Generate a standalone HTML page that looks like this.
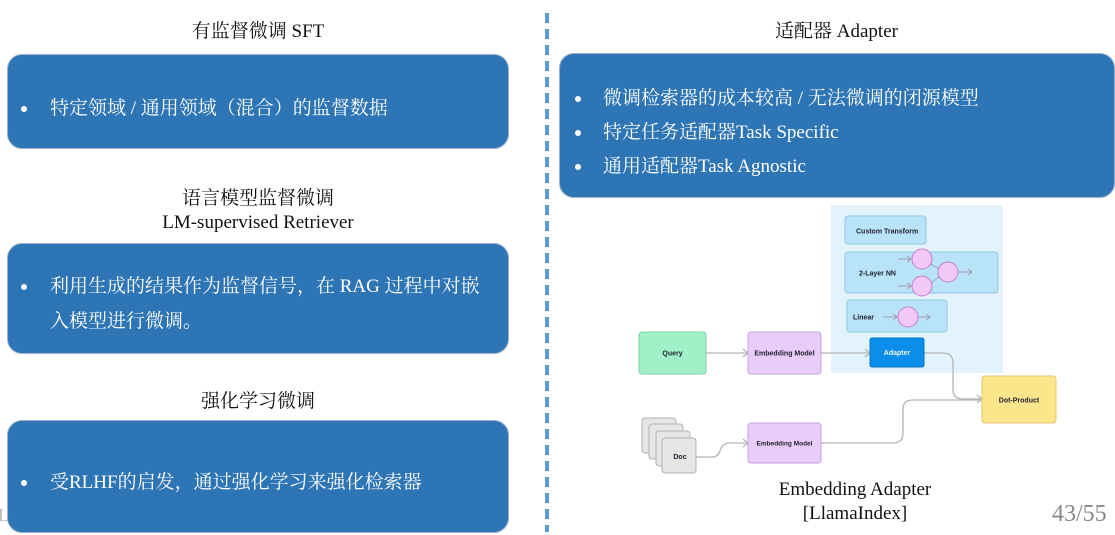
<!DOCTYPE html>
<html><head><meta charset="utf-8"><style>
html,body{margin:0;padding:0;background:#fff;}
body{width:1115px;height:535px;position:relative;overflow:hidden;font-family:"Liberation Serif","Noto Serif CJK SC",serif;}
.t{position:absolute;text-align:center;color:#111;font-size:19px;line-height:24px;white-space:nowrap;}
.box{position:absolute;background:#2e75b6;border:1px solid #9fb0c6;border-radius:15px;box-sizing:border-box;}
.ln{position:absolute;color:#fff;font-size:19px;line-height:24px;white-space:nowrap;}
.bu{position:absolute;width:6px;height:6px;border-radius:50%;background:#fff;}
svg text{font-family:"Liberation Sans",sans-serif;font-weight:bold;}
</style></head><body>

<svg width="1115" height="535" style="position:absolute;left:0;top:0">
  <line x1="547" y1="13" x2="547" y2="532" stroke="#5b9bd5" stroke-width="4" stroke-dasharray="10 6"/>
  <!-- diagram panel -->
  <rect x="831" y="205" width="172" height="168" fill="#e2f3fd"/>
  <rect x="845" y="216" width="81" height="28" rx="3" fill="#b9e3f8" stroke="#93c6e2" stroke-width="1"/>
  <rect x="845" y="252" width="153" height="41" rx="3" fill="#b9e3f8" stroke="#93c6e2" stroke-width="1"/>
  <rect x="847" y="300" width="100" height="32" rx="3" fill="#b9e3f8" stroke="#93c6e2" stroke-width="1"/>
  <g stroke="#a0a0b0" stroke-width="1" fill="none">
    <path d="M898 259 H911 M907 256 L911 259 L907 262"/>
    <path d="M898 286 H911 M907 283 L911 286 L907 289"/>
    <path d="M931 264 L939 269"/>
    <path d="M931 283 L939 277"/>
    <path d="M958 272 H972 M968 269 L972 272 L968 275"/>
    <path d="M883 317 H897 M893 314 L897 317 L893 320"/>
    <path d="M918 317 H930 M926 314 L930 317 L926 320"/>
  </g>
  <g fill="#f2c9f6" stroke="#c27fd0" stroke-width="1">
    <circle cx="922" cy="259" r="10"/>
    <circle cx="922" cy="286" r="10"/>
    <circle cx="948" cy="272" r="10"/>
    <circle cx="908" cy="317" r="10"/>
  </g>
  <text x="856" y="233.5" font-size="7" fill="#223">Custom Transform</text>
  <text x="859" y="275.5" font-size="7" fill="#223">2-Layer NN</text>
  <text x="853" y="319.5" font-size="7" fill="#223">Linear</text>

  <!-- connectors -->
  <g stroke="#b4b4b4" stroke-width="1.3" fill="none">
    <path d="M706 353 H748 M743 349 L748 353 L743 357"/>
    <path d="M821 353 H870 M865 349 L870 353 L865 357"/>
    <path d="M924 353 H943 Q953 353 953 363 V389 Q953 399 963 399 H982 M977 395 L982 399 L977 403"/>
    <path d="M821 443 H893 Q903 443 903 433 V409 Q903 400 913 400 H982"/>
    <path d="M696 457 H712 Q718 457 720 451 Q722 443 730 443 H748 M743 439 L748 443 L743 447"/>
  </g>

  <!-- nodes -->
  <rect x="639" y="332" width="67" height="42" rx="3" fill="#a0f1c7" stroke="#7fcfa6" stroke-width="1"/>
  <text x="672.5" y="355.5" font-size="7" fill="#223" text-anchor="middle">Query</text>
  <rect x="748" y="332" width="73" height="42" rx="3" fill="#e8cdfa" stroke="#c6a2de" stroke-width="1"/>
  <text x="784.5" y="355.5" font-size="7" fill="#223" text-anchor="middle">Embedding Model</text>
  <rect x="870" y="338" width="54" height="29" rx="2" fill="#0a8ee9" stroke="#0a74c4" stroke-width="1"/>
  <text x="897" y="355" font-size="7" fill="#e8f6ff" text-anchor="middle">Adapter</text>
  <rect x="982" y="376" width="74" height="47" rx="3" fill="#fde58c" stroke="#e2c66c" stroke-width="1"/>
  <text x="1019" y="402.5" font-size="7" fill="#223" text-anchor="middle">Dot-Product</text>
  <rect x="748" y="423" width="73" height="40" rx="3" fill="#e8cdfa" stroke="#c6a2de" stroke-width="1"/>
  <text x="784.5" y="445.5" font-size="6.5" fill="#223" text-anchor="middle">Embedding Model</text>
  <g fill="#e6e6e6" stroke="#b2b2b2" stroke-width="1">
    <rect x="642" y="418" width="34" height="35" rx="3"/>
    <rect x="649" y="424" width="34" height="35" rx="3"/>
    <rect x="656" y="431" width="34" height="35" rx="3"/>
    <rect x="662" y="438" width="34" height="35" rx="3"/>
  </g>
  <text x="680" y="459" font-size="7" fill="#223" text-anchor="middle">Doc</text>
</svg>

<!-- left column -->
<div class="t" style="left:0;width:516px;top:20px;">有监督微调 SFT</div>
<div class="box" style="left:7px;top:54px;width:502px;height:95px;"></div>
<div class="bu" style="left:21px;top:106px;"></div>
<div class="ln" style="left:50px;top:97px;">特定领域 / 通用领域（混合）的监督数据</div>

<div class="t" style="left:0;width:516px;top:187px;">语言模型监督微调</div>
<div class="t" style="left:0;width:516px;top:211px;">LM-supervised Retriever</div>
<div class="box" style="left:7px;top:243px;width:502px;height:111px;"></div>
<div class="bu" style="left:21px;top:284px;"></div>
<div class="ln" style="left:50px;top:275px;">利用生成的结果作为监督信号，在 RAG 过程中对嵌</div>
<div class="ln" style="left:50px;top:310px;">入模型进行微调。</div>

<div class="t" style="left:0;width:516px;top:390px;">强化学习微调</div>
<div class="box" style="left:7px;top:420px;width:502px;height:113px;"></div>
<div class="bu" style="left:21px;top:480px;"></div>
<div class="ln" style="left:50px;top:471px;">受RLHF的启发，通过强化学习来强化检索器</div>

<div style="position:absolute;left:-2px;top:503px;font-size:18px;color:#bbb;line-height:24px;">L</div>

<!-- right column -->
<div class="t" style="left:559px;width:555px;top:20px;">适配器 Adapter</div>
<div class="box" style="left:559px;top:53px;width:556px;height:145px;"></div>
<div class="bu" style="left:575px;top:96px;"></div>
<div class="ln" style="left:603px;top:87px;">微调检索器的成本较高 / 无法微调的闭源模型</div>
<div class="bu" style="left:575px;top:130px;"></div>
<div class="ln" style="left:603px;top:121px;">特定任务适配器Task Specific</div>
<div class="bu" style="left:575px;top:164px;"></div>
<div class="ln" style="left:603px;top:155px;">通用适配器Task Agnostic</div>

<div class="t" style="left:755px;width:200px;top:478px;">Embedding Adapter</div>
<div class="t" style="left:755px;width:200px;top:502px;">[LlamaIndex]</div>
<div style="position:absolute;left:1052px;top:500px;font-size:24px;line-height:28px;color:#888;">43/55</div>

</body></html>
